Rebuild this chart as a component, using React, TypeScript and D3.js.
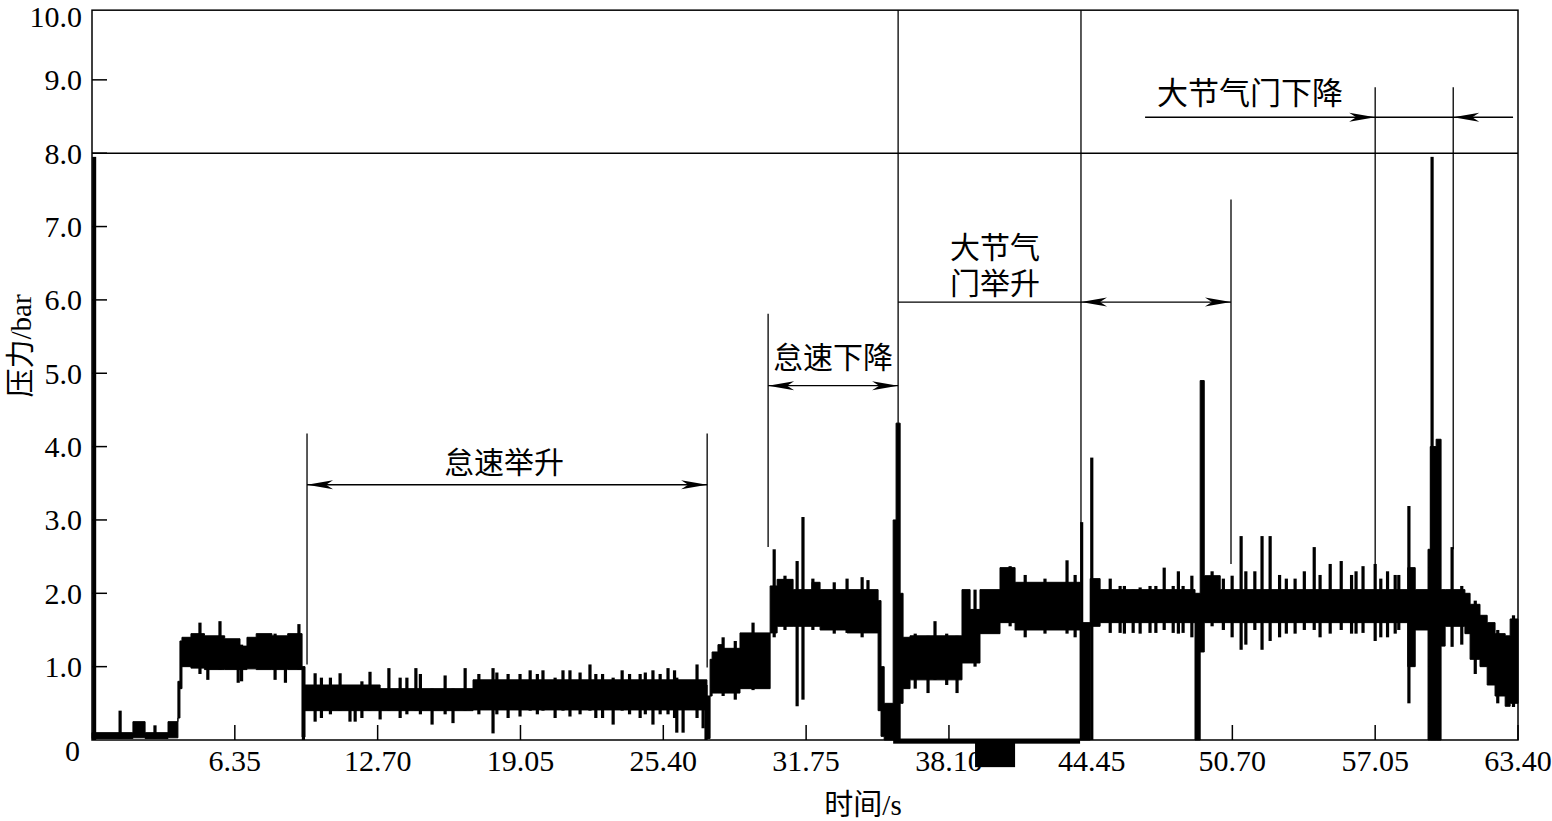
import * as d3 from 'd3';

// envelope of the pressure trace: [time s, low bar, high bar], step-after
const envelope: Array<[number, number, number]> = [
  [0.0, 0.02, 0.1], [1.82, 0.03, 0.25], [2.36, 0.02, 0.1], [3.38, 0.03, 0.25],
  [3.82, 0.3, 0.8], [3.91, 0.7, 1.35], [4.0, 1.0, 1.4], [4.4, 0.98, 1.45],
  [5.0, 0.96, 1.42], [5.9, 0.96, 1.38], [6.58, 0.96, 1.28], [6.89, 0.97, 1.4],
  [7.3, 0.96, 1.45], [8.0, 0.96, 1.42], [8.7, 0.96, 1.45], [9.34, 0.04, 1.0],
  [9.47, 0.4, 0.75], [12.81, 0.4, 0.7], [16.94, 0.41, 0.82], [27.34, 0.02, 0.6],
  [27.48, 0.6, 1.1], [27.57, 0.64, 1.2], [27.83, 0.64, 1.3], [28.06, 0.64, 1.25],
  [28.81, 0.7, 1.46], [30.15, 1.46, 2.1], [30.46, 1.55, 2.19], [31.17, 1.55, 2.05],
  [32.01, 1.55, 2.15], [32.37, 1.5, 2.05], [33.57, 1.46, 2.05], [34.95, 0.4, 1.9],
  [35.08, 0.05, 1.0], [35.22, 0.0, 0.5], [35.62, 0.0, 3.0], [35.75, 0.0, 4.32],
  [35.93, 0.5, 2.0], [36.06, 0.7, 1.4], [36.37, 0.82, 1.42], [38.68, 1.05, 2.05],
  [39.04, 1.05, 1.78], [39.48, 1.45, 2.05], [40.37, 1.6, 2.35], [41.04, 1.5, 2.15],
  [43.93, 0.0, 1.6], [44.38, 1.55, 2.2], [44.82, 1.6, 2.05], [49.04, 0.0, 2.0],
  [49.27, 1.2, 4.9], [49.45, 1.6, 2.24], [50.16, 1.6, 2.05], [58.5, 1.0, 2.35],
  [58.83, 1.5, 2.05], [59.4, 0.0, 2.6], [59.5, 0.0, 4.0], [59.76, 0.0, 4.1],
  [59.98, 1.28, 2.05], [60.16, 1.55, 2.05], [61.04, 1.45, 2.0], [61.27, 1.1, 1.85],
  [61.71, 1.0, 1.7], [62.03, 0.75, 1.6], [62.38, 0.6, 1.45], [62.83, 0.46, 1.42],
  [63.05, 0.5, 1.65], [63.4, 0.5, 1.65],
];

// narrow excursions above / below the band: [time s, low bar, high bar]
const spikes: Array<[number, number, number]> = [
  [0.08, 0.0, 7.95], [1.25, 0.02, 0.4], [2.8, 0.02, 0.2], [4.8, 0.9, 1.6],
  [5.15, 0.82, 1.4], [5.69, 0.96, 1.62], [6.5, 0.78, 1.3], [6.65, 0.8, 1.3],
  [8.14, 0.82, 1.45], [8.6, 0.78, 1.4], [9.2, 0.96, 1.58], [9.4, 0.0, 1.0],
  [9.92, 0.25, 0.91], [10.2, 0.3, 0.85], [10.6, 0.35, 0.85], [11.03, 0.4, 0.91],
  [11.47, 0.25, 0.7], [11.7, 0.25, 0.7], [12.0, 0.3, 0.8], [12.36, 0.4, 0.93],
  [12.81, 0.28, 0.7], [13.2, 0.4, 0.98], [13.7, 0.3, 0.85], [14.0, 0.35, 0.85],
  [14.4, 0.4, 0.98], [14.6, 0.35, 0.9], [15.12, 0.21, 0.7], [15.7, 0.35, 0.88],
  [16.05, 0.23, 0.7], [16.59, 0.4, 0.98], [17.2, 0.35, 0.9], [17.83, 0.09, 0.98],
  [18.0, 0.35, 0.92], [18.5, 0.3, 0.9], [19.03, 0.32, 0.9], [19.48, 0.4, 0.95],
  [19.8, 0.35, 0.9], [20.05, 0.4, 0.95], [20.59, 0.3, 0.85], [20.94, 0.4, 0.95],
  [21.25, 0.32, 0.95], [21.7, 0.35, 0.92], [22.14, 0.4, 1.03], [22.4, 0.3, 0.9],
  [22.7, 0.3, 0.9], [23.17, 0.21, 0.85], [23.57, 0.4, 0.95], [23.9, 0.35, 0.9],
  [24.37, 0.3, 0.9], [24.6, 0.35, 0.92], [24.94, 0.21, 0.95], [25.26, 0.35, 0.9],
  [25.61, 0.35, 0.98], [25.9, 0.3, 0.95], [26.0, 0.1, 0.85], [26.28, 0.1, 0.8],
  [26.9, 0.3, 1.03], [27.17, 0.16, 0.8], [27.3, 0.0, 0.75],
  [28.06, 0.6, 1.4], [28.6, 0.55, 1.35], [29.39, 0.68, 1.6], [30.33, 1.4, 2.6],
  [30.81, 1.5, 2.24], [31.35, 0.46, 2.44], [31.61, 0.55, 3.04], [32.05, 1.5, 2.2],
  [33.0, 1.45, 2.15], [33.57, 1.46, 2.2], [34.24, 1.4, 2.22], [34.5, 1.46, 2.18],
  [36.6, 0.7, 1.45], [37.17, 0.64, 1.42], [37.48, 0.82, 1.62], [38.0, 0.75, 1.45],
  [38.46, 0.64, 1.42], [39.26, 1.0, 2.05], [40.82, 1.55, 2.37], [41.49, 1.4, 2.25],
  [42.37, 1.45, 2.2], [43.35, 1.45, 2.45], [43.71, 1.4, 2.25], [44.0, 0.0, 2.97],
  [44.45, 0.0, 3.85], [45.27, 1.46, 2.2], [45.71, 1.46, 2.1], [45.9, 1.45, 2.1],
  [46.29, 1.46, 2.05], [46.6, 1.45, 2.08], [47.04, 1.46, 2.1], [47.3, 1.46, 2.1],
  [47.67, 1.5, 2.35], [48.07, 1.46, 2.1], [48.3, 1.45, 2.3], [48.51, 1.46, 2.1],
  [48.9, 1.4, 2.24], [49.8, 1.55, 2.3], [50.3, 1.5, 2.2], [50.69, 1.4, 2.24],
  [51.09, 1.23, 2.78], [51.3, 1.3, 2.3], [51.7, 1.5, 2.3], [52.02, 1.23, 2.78],
  [52.38, 1.35, 2.78], [52.8, 1.4, 2.25], [53.1, 1.45, 2.2], [53.49, 1.45, 2.2],
  [53.9, 1.5, 2.3], [54.34, 1.5, 2.63], [54.6, 1.4, 2.25], [55.05, 1.45, 2.4],
  [55.54, 1.5, 2.44], [56.0, 1.45, 2.25], [56.2, 1.45, 2.3], [56.51, 1.46, 2.37],
  [57.05, 1.35, 2.4], [57.3, 1.4, 2.2], [57.6, 1.4, 2.3], [57.94, 1.45, 2.25],
  [58.1, 1.5, 2.25], [58.55, 0.5, 3.19], [59.58, 0.0, 7.95], [60.47, 1.27, 2.63],
  [60.9, 1.3, 2.1], [61.5, 0.9, 1.9], [62.5, 0.5, 1.5], [63.2, 0.45, 1.7],
];

// trace sitting at / below zero: [t start, t end, low, high]
const belowZero: Array<[number, number, number, number]> = [
  [35.62, 43.93, -0.05, 0.02],
  [39.26, 41.04, -0.37, -0.02],
];

const xTicks = [6.35, 12.7, 19.05, 25.4, 31.75, 38.1, 44.45, 50.7, 57.05, 63.4];
const xTickLabels = ['6.35', '12.70', '19.05', '25.40', '31.75', '38.10', '44.45', '50.70', '57.05', '63.40'];
const yTicks = [0, 1, 2, 3, 4, 5, 6, 7, 8, 9, 10];
const yTickLabels = ['0', '1.0', '2.0', '3.0', '4.0', '5.0', '6.0', '7.0', '8.0', '9.0', '10.0'];

// phase markers: [time, from bar, to bar]
const markers: Array<[number, number, number]> = [
  [9.56, 1.03, 4.18], [27.35, 0.99, 4.18], [30.06, 2.63, 5.81],
  [35.84, 4.3, 9.95], [43.97, 2.95, 9.95], [50.64, 2.4, 7.37],
  [57.05, 2.4, 8.9], [60.52, 2.6, 8.9],
];

const font = "'Liberation Serif', 'Times New Roman', 'Noto Sans CJK SC', serif";

const W = 1552;
const H = 821;

const x = d3.scaleLinear().domain([0, 63.4]).range([92, 1518]);
const y = d3.scaleLinear().domain([0, 10]).range([740, 6.5]);

function Arrow({ tip, v, dir }: { tip: number; v: number; dir: 1 | -1 }) {
  const tx = x(tip);
  const ty = y(v);
  const p = [
    [tx, ty],
    [tx - dir * 26, ty - 4.5],
    [tx - dir * 19, ty],
    [tx - dir * 26, ty + 4.5],
  ];
  return <polygon points={p.map((d) => d.join(',')).join(' ')} fill="#000" />;
}

function HLine({ t0, t1, v }: { t0: number; t1: number; v: number }) {
  return <line x1={x(t0)} x2={x(t1)} y1={y(v)} y2={y(v)} stroke="#000" strokeWidth={1.3} />;
}

export default function App() {
  const area = d3
    .area<[number, number, number]>()
    .curve(d3.curveStepAfter)
    .x((d) => x(d[0]))
    .y0((d) => y(d[1]))
    .y1((d) => y(d[2]));

  const x0 = x(0);
  const x1 = x(63.4);
  const yb = y(0);
  const yTop = y(9.95);

  return (
    <svg width={W} height={H} style={{ position: 'absolute', left: 0, top: 0, background: '#fff' }}>
      {/* trace */}
      <path d={area(envelope) || ''} fill="#000" stroke="#000" strokeWidth={1} />
      {spikes.map((d, i) => (
        <rect key={i} x={x(d[0]) - 1.6} width={i === 0 ? 4 : 3.2} y={y(d[2])} height={y(d[1]) - y(d[2])} fill="#000" />
      ))}
      {belowZero.map((d, i) => (
        <rect key={i} x={x(d[0])} width={x(d[1]) - x(d[0])} y={y(d[3])} height={y(d[2]) - y(d[3])} fill="#000" />
      ))}

      {/* frame */}
      <rect x={x0} y={yTop} width={x1 - x0} height={yb - yTop} fill="none" stroke="#000" strokeWidth={1.5} />
      <line x1={x0} x2={x1} y1={y(8)} y2={y(8)} stroke="#000" strokeWidth={1.5} />

      {yTicks.map((v, i) => (
        <g key={v}>
          {v > 0 && v < 10 && <line x1={x0} x2={x0 + 15} y1={y(v)} y2={y(v)} stroke="#000" strokeWidth={1.5} />}
          <text
            x={v === 0 ? 80 : 82}
            y={v === 0 ? yb + 21 : v === 10 ? 27 : y(v) + 10.5}
            textAnchor="end"
            fontFamily={font}
            fontSize={30}
          >
            {yTickLabels[i]}
          </text>
        </g>
      ))}
      {xTicks.map((t, i) => (
        <g key={t}>
          <line x1={x(t)} x2={x(t)} y1={yb} y2={yb - 15} stroke="#000" strokeWidth={1.5} />
          <text x={x(t)} y={yb + 31} textAnchor="middle" fontFamily={font} fontSize={30}>
            {xTickLabels[i]}
          </text>
        </g>
      ))}

      <text x={863} y={815} textAnchor="middle" fontFamily={font} fontSize={29}>
        时间/s
      </text>
      <text
        transform={`translate(21,346) rotate(-90)`}
        textAnchor="middle"
        dominantBaseline="central"
        fontFamily={font}
        fontSize={29}
      >
        压力/bar
      </text>

      {/* phase markers */}
      {markers.map((m, i) => (
        <line key={i} x1={x(m[0])} x2={x(m[0])} y1={y(m[1])} y2={y(m[2])} stroke="#000" strokeWidth={1.3} />
      ))}

      <HLine t0={9.56} t1={27.35} v={3.48} />
      <Arrow tip={9.56} v={3.48} dir={-1} />
      <Arrow tip={27.35} v={3.48} dir={1} />
      <text x={x(18.32)} y={y(3.79)} textAnchor="middle" dominantBaseline="central" fontFamily={font} fontSize={30}>
        怠速举升
      </text>

      <HLine t0={30.06} t1={35.84} v={4.83} />
      <Arrow tip={30.06} v={4.83} dir={-1} />
      <Arrow tip={35.84} v={4.83} dir={1} />
      <text x={x(32.95)} y={y(5.21)} textAnchor="middle" dominantBaseline="central" fontFamily={font} fontSize={30}>
        怠速下降
      </text>

      <HLine t0={35.84} t1={50.64} v={5.97} />
      <Arrow tip={43.97} v={5.97} dir={-1} />
      <Arrow tip={50.64} v={5.97} dir={1} />
      <text x={x(40.15)} y={y(6.71)} textAnchor="middle" dominantBaseline="central" fontFamily={font} fontSize={30}>
        大节气
      </text>
      <text x={x(40.15)} y={y(6.23)} textAnchor="middle" dominantBaseline="central" fontFamily={font} fontSize={30}>
        门举升
      </text>

      <HLine t0={46.82} t1={63.18} v={8.49} />
      <Arrow tip={57.05} v={8.49} dir={1} />
      <Arrow tip={60.52} v={8.49} dir={-1} />
      <text x={x(51.49)} y={y(8.82)} textAnchor="middle" dominantBaseline="central" fontFamily={font} fontSize={31}>
        大节气门下降
      </text>
    </svg>
  );
}
